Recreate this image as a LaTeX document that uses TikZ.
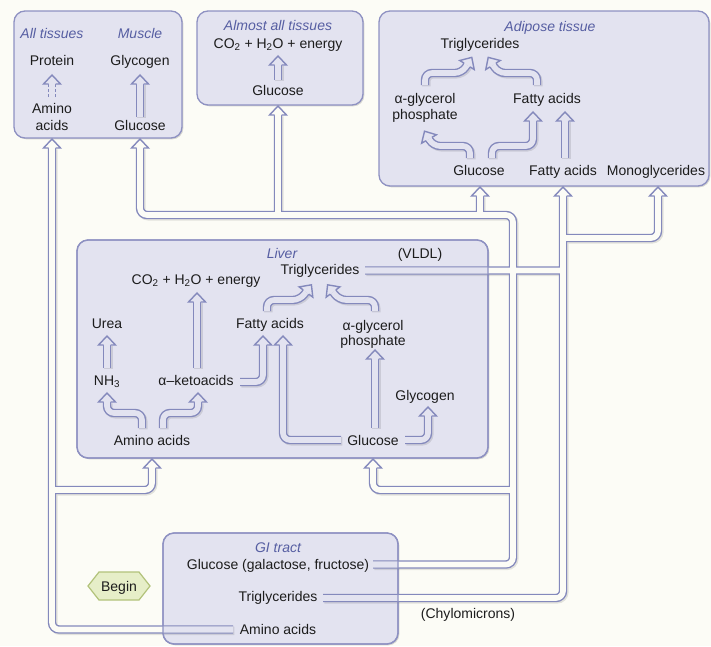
\documentclass[tikz,border=0pt]{standalone}
\usepackage{fontspec}
\setmainfont{Liberation Sans}
\usetikzlibrary{shadows}

\definecolor{bgc}{RGB}{252,252,246}
\definecolor{boxf}{RGB}{227,227,240}
\definecolor{boxd}{RGB}{142,145,194}
\definecolor{pipec}{RGB}{132,137,188}
\definecolor{titlec}{RGB}{86,94,162}
\definecolor{txtc}{RGB}{28,28,28}
\definecolor{hexf}{RGB}{230,238,200}
\definecolor{hexd}{RGB}{178,194,122}

\newcommand\fs{\fontsize{14}{17}\selectfont}

\tikzset{
  lbl/.style={inner sep=0pt, anchor=base, text=txtc, font=\fs},
  ttl/.style={lbl, text=titlec, font=\fs\itshape},
  panel/.style={draw=boxd, line width=1.3pt, fill=boxf, rounded corners=11pt,
    drop shadow={shadow xshift=1.3pt, shadow yshift=-1.3pt, opacity=.22, fill=black!70}},
  panelline/.style={draw=boxd, line width=1.3pt, rounded corners=11pt},
  pipeshade/.style={draw=black, opacity=.10, line width=8.4pt, rounded corners=7pt,
    transform canvas={shift={(1.3pt,-1.3pt)}}},
  pipeout/.style={draw=pipec, line width=8.4pt, rounded corners=7pt},
  pipein/.style={draw=#1, line width=5.6pt, rounded corners=7pt},
  pics/ahead/.style={code={
    \filldraw[sharp corners, draw=pipec, fill=#1, line width=1.4pt, line join=miter, miter limit=4]
      (0,-3.5) -- (0,-8.5) -- (9,0) -- (0,8.5) -- (0,3.5);
  }},
}

% a double-line arrow: shade, outer stroke, inner stroke, open head at the end
\newcommand\ipipe[2][boxf]{%
  \draw[pipeshade]#2;
  \draw[pipeout]#2;
  \draw[pipein=#1]#2 pic[pos=1, sloped, allow upside down]{ahead=#1};}

% pipe networks between the organs
\def\amnet{(233,629.5) -- (52,629.5) -- (52,148) (52,490) -| (152,468)}
\def\glnet{(373,564.5) -- (513,564.5) -- (513,215) -- (140,215) -- (140,148)
  (480,215) -- (480,196) (278,215) -- (278,115) (513,490) -| (373,468)}
\def\tgnet{(323,598) -- (563,598) -- (563,196) (563,238) -| (658,196)
  (365,270.5) -- (563,270.5)}

\begin{document}
\begin{tikzpicture}[x=1pt, y=-1pt]
\fill[bgc] (0,0) rectangle (711,646);
\useasboundingbox (0,0) rectangle (711,646);

% organ panels
\path[panel] (14,11) rectangle (182,138);
\path[panel] (197,11) rectangle (363,105);
\path[panel] (379,11) rectangle (709,186);
\path[panel] (77,240) rectangle (488,458);
\path[panel] (163,533) rectangle (398,644);

% transport pipes
\draw[pipeshade] \amnet \glnet \tgnet;
\draw[pipeout] \amnet \glnet \tgnet;
\draw[pipein=bgc] \amnet \glnet \tgnet;
\begin{scope}
  \clip[rounded corners=11pt] (77,240) rectangle (488,458);
  \draw[pipein=boxf] \tgnet;
\end{scope}
\begin{scope}
  \clip[rounded corners=11pt] (163,533) rectangle (398,644);
  \draw[pipein=boxf] \amnet \glnet \tgnet;
\end{scope}
\draw[panelline] (77,240) rectangle (488,458);
\draw[panelline] (163,533) rectangle (398,644);

\foreach \p in {(52,148),(140,148),(278,115),(480,196),(563,196),(658,196),(152,468),(373,468)}
  \pic[rotate=90] at \p {ahead=bgc};

% All tissues / Muscle
\node[ttl] (alltis) at (52,38) {All tissues};
\node[ttl] (muscle) at (140,38) {Muscle};
\node[lbl] (protein) at (52,65) {Protein};
\node[lbl] (glycm) at (140,65) {Glycogen};
\node[lbl] (aminom1) at (52,113) {Amino};
\node[lbl] (aminom2) at (52,130) {acids};
\node[lbl] (glucm) at (140,130) {Glucose};
\draw[pipec, line width=1.3pt, dash pattern=on 3pt off 2pt]
  (48.5,97) -- (48.5,84) (55.5,97) -- (55.5,84);
\pic[rotate=90] at (52,84) {ahead=boxf};
\ipipe{(140,117) -- (140,84)}

% Almost all tissues
\node[ttl] (almost) at (278,30) {Almost all tissues};
\node[lbl] (co2a) at (278,48) {CO\textsubscript{2} + H\textsubscript{2}O + energy};
\node[lbl] (gluca) at (278,95) {Glucose};
\ipipe{(278,80) -- (278,65)}

% Adipose tissue
\node[ttl] (adipose) at (550,31) {Adipose tissue};
\node[lbl] (triga) at (480,48) {Triglycerides};
\node[lbl] (agpa1) at (425,103) {α-glycerol};
\node[lbl] (agpa2) at (425,119) {phosphate};
\node[lbl] (faa) at (547,103) {Fatty acids};
\node[lbl] (glucad) at (479,175) {Glucose};
\node[lbl] (faad) at (563,175) {Fatty acids};
\node[lbl] (mono) at (656,175) {Monoglycerides};
\ipipe{(425,85) -- (425,73) -- (462,73) -- (467,65)}
\ipipe{(537,85) -- (537,73) -- (498,73) -- (493,65)}
\ipipe{(470,158) -- (470,146) -- (433,146) -- (429,139)}
\ipipe{(492,158) -- (492,146) -- (533,146) -- (533,121)}
\ipipe{(565,158) -- (565,121)}

% Liver
\node[ttl] (liver) at (282,258) {Liver};
\node[lbl] (vldl) at (420,258) {(VLDL)};
\node[lbl] (trigl) at (320,274) {Triglycerides};
\node[lbl] (co2l) at (196,284) {CO\textsubscript{2} + H\textsubscript{2}O + energy};
\node[lbl] (urea) at (107,328) {Urea};
\node[lbl] (fal) at (270,328) {Fatty acids};
\node[lbl] (agpl1) at (373,330) {α-glycerol};
\node[lbl] (agpl2) at (373,345) {phosphate};
\node[lbl] (nh3) at (107,385) {NH\textsubscript{3}};
\node[lbl] (keto) at (196,385) {α–ketoacids};
\node[lbl] (glycl) at (425,400) {Glycogen};
\node[lbl] (aminol) at (152,445) {Amino acids};
\node[lbl] (glucl) at (373,445) {Glucose};
\ipipe{(107,368) -- (107,345)}
\ipipe{(197,368) -- (197,302)}
\ipipe{(142,428) -- (142,413) -- (107,413) -- (107,402)}
\ipipe{(163,428) -- (163,413) -- (198,413) -- (198,402)}
\ipipe{(240,382) -- (263,382) -- (263,345)}
\ipipe{(341,440) -- (283,440) -- (283,345)}
\ipipe{(375,428) -- (375,359)}
\ipipe{(405,440) -- (428,440) -- (428,416)}
\ipipe{(267,311) -- (267,300) -- (300,300) -- (306,292)}
\ipipe{(375,311) -- (375,300) -- (339,300) -- (333,292)}

% GI tract
\node[ttl] (gi) at (278,552) {GI tract};
\node[lbl] (glucgi) at (278,569) {Glucose (galactose, fructose)};
\node[lbl] (triggi) at (278,601) {Triglycerides};
\node[lbl] (aminogi) at (278,634) {Amino acids};
\node[lbl] (chylo) at (468,618) {(Chylomicrons)};

% start marker
\filldraw[fill=hexf, draw=hexd, line width=1.2pt]
  (88,586) -- (99,572) -- (139,572) -- (150,586) -- (139,600) -- (99,600) -- cycle;
\node[lbl] (begin) at (119,591) {Begin};
\end{tikzpicture}
\end{document}
